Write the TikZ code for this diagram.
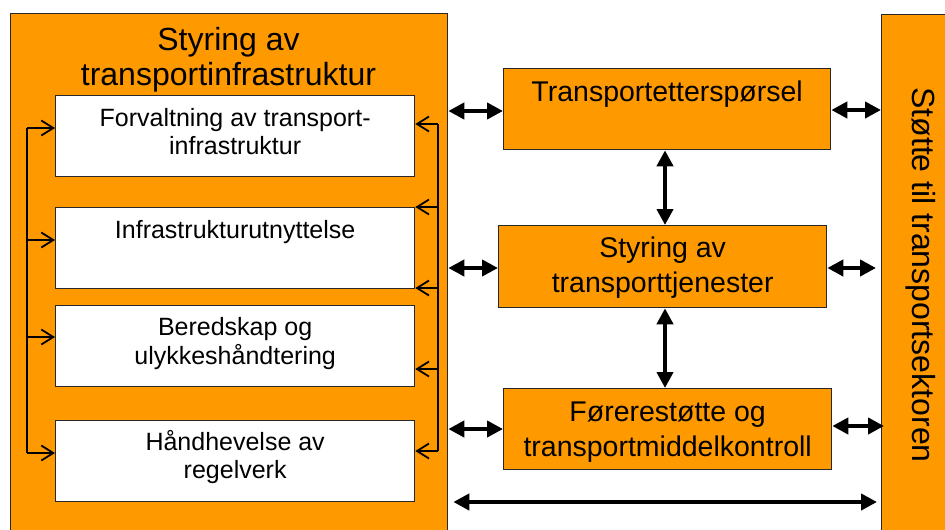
\documentclass[tikz,border=0pt]{standalone}
\usepackage{fontspec}
\setmainfont{Liberation Sans}
\usetikzlibrary{arrows.meta,calc}
\definecolor{panelorange}{RGB}{255,153,0}
\definecolor{edgegray}{RGB}{40,40,40}

\begin{document}
\begin{tikzpicture}[x=1pt,y=-1pt,
  panel/.style={rectangle, draw=edgegray, line width=1.3pt, fill=panelorange,
    inner sep=0pt, anchor=north west},
  subbox/.style={rectangle, draw=edgegray, line width=1.3pt, fill=white,
    inner sep=0pt, anchor=north west, minimum width=359pt, minimum height=81pt},
  midbox/.style={rectangle, draw=edgegray, line width=1.3pt, fill=panelorange,
    inner sep=0pt, anchor=north west, minimum height=81pt},
  bigtext/.style={font=\fontsize{32}{35}\selectfont, align=center, inner sep=0pt},
  midtext/.style={font=\fontsize{28.5}{35}\selectfont, align=center, inner sep=0pt, anchor=north},
  smalltext/.style={font=\fontsize{25}{28}\selectfont, align=center, inner sep=0pt, anchor=north},
  bus/.style={line width=1.8pt, draw=black},
  feed/.style={line width=1.8pt, draw=black, -{Straight Barb[length=12pt,width=15pt]}},
  dbl/.style={line width=4.5pt, draw=black,
    {Triangle[length=16pt,width=16pt]}-{Triangle[length=16pt,width=16pt]}}
]
\useasboundingbox (0,0) rectangle (945,530);
\clip (0,0) rectangle (945,530);
\fill[white] (0,0) rectangle (945,530);

% outer panels
\node[panel, minimum width=437pt, minimum height=540pt] (infra) at (10,13) {};
\node[panel, minimum width=100pt, minimum height=540pt] (support) at (881,14) {};

\node[bigtext, anchor=north] (infrat) at (228.5,25.5)
  {\strut Styring av\\transportinfrastruktur};
\node[bigtext, rotate=-90] (supportt) at (921,275) {Støtte til transportsektoren};

% infrastructure sub-tasks
\node[subbox] (f1) at (55,95) {};
\node[subbox] (f2) at (55,207) {};
\node[subbox] (f3) at (55,305) {};
\node[subbox] (f4) at (55,420) {};

\node[smalltext] (f1t) at ($(f1.north)+(0,11.4)$) {\strut Forvaltning av transport-\\infrastruktur};
\node[smalltext] (f2t) at ($(f2.north)+(0,11.4)$) {\strut Infrastrukturutnyttelse};
\node[smalltext] (f3t) at ($(f3.north)+(0,10.4)$) {\strut Beredskap og\\ulykkeshåndtering};
\node[smalltext] (f4t) at ($(f4.north)+(0,10.4)$) {\strut Håndhevelse av\\regelverk};

% transport services column
\node[midbox, minimum width=327pt] (dem) at (503,68) {};
\node[midbox, minimum width=328pt, minimum height=82pt] (svc) at (498,225) {};
\node[midbox, minimum width=328pt] (drv) at (503,388) {};

\node[midtext] (demt) at ($(dem.north)+(0,8.5)$) {\strut Transportetterspørsel};
\node[midtext] (svct) at ($(svc.north)+(0,7.5)$) {\strut Styring av\\transporttjenester};
\node[midtext] (drvt) at ($(drv.north)+(0,8.5)$) {\strut Førerestøtte og\\transportmiddelkontroll};

% left distribution bus
\coordinate (lb1) at (27,128);
\coordinate (lb2) at (27,240);
\coordinate (lb3) at (27,337);
\coordinate (lb4) at (27,453);
\draw[bus] (lb1) -- (lb4);
\draw[feed] (lb1) -- (lb1 -| f1.west);
\draw[feed] (lb2) -- (lb2 -| f2.west);
\draw[feed] (lb3) -- (lb3 -| f3.west);
\draw[feed] (lb4) -- (lb4 -| f4.west);

% right feedback bus
\coordinate (rb1) at (438,124);
\coordinate (rb2) at (438,207);
\coordinate (rb3) at (438,288);
\coordinate (rb4) at (438,369);
\coordinate (rb5) at (438,451);
\draw[bus] (rb1) -- (rb5);
\draw[feed] (rb1) -- (rb1 -| f1.east);
\draw[feed] (rb2) -- (rb2 -| f2.east);
\draw[feed] (rb3) -- (rb3 -| f2.east);
\draw[feed] (rb4) -- (rb4 -| f3.east);
\draw[feed] (rb5) -- (rb5 -| f4.east);

% exchanges between the columns
\draw[dbl] (infra.east |- 0,111) -- (dem.west |- 0,111);
\draw[dbl] (infra.east |- 0,268) -- (svc.west |- 0,268);
\draw[dbl] (infra.east |- 0,429) -- (drv.west |- 0,429);
\draw[dbl] (dem.east |- 0,110) -- (support.west |- 0,110);
\draw[dbl] (svc.east |- 0,268) -- ([xshift=-5pt]support.west |- 0,268);
\draw[dbl] (drv.east |- 0,426) -- ([xshift=3pt]support.west |- 0,426);
\draw[dbl] (dem.south -| 665,0) -- (svc.north -| 665,0);
\draw[dbl] (svc.south -| 665,0) -- (drv.north -| 665,0);
\draw[dbl, shorten <=5pt, shorten >=4pt] (infra.east |- 0,502) -- (support.west |- 0,502);
\end{tikzpicture}
\end{document}
